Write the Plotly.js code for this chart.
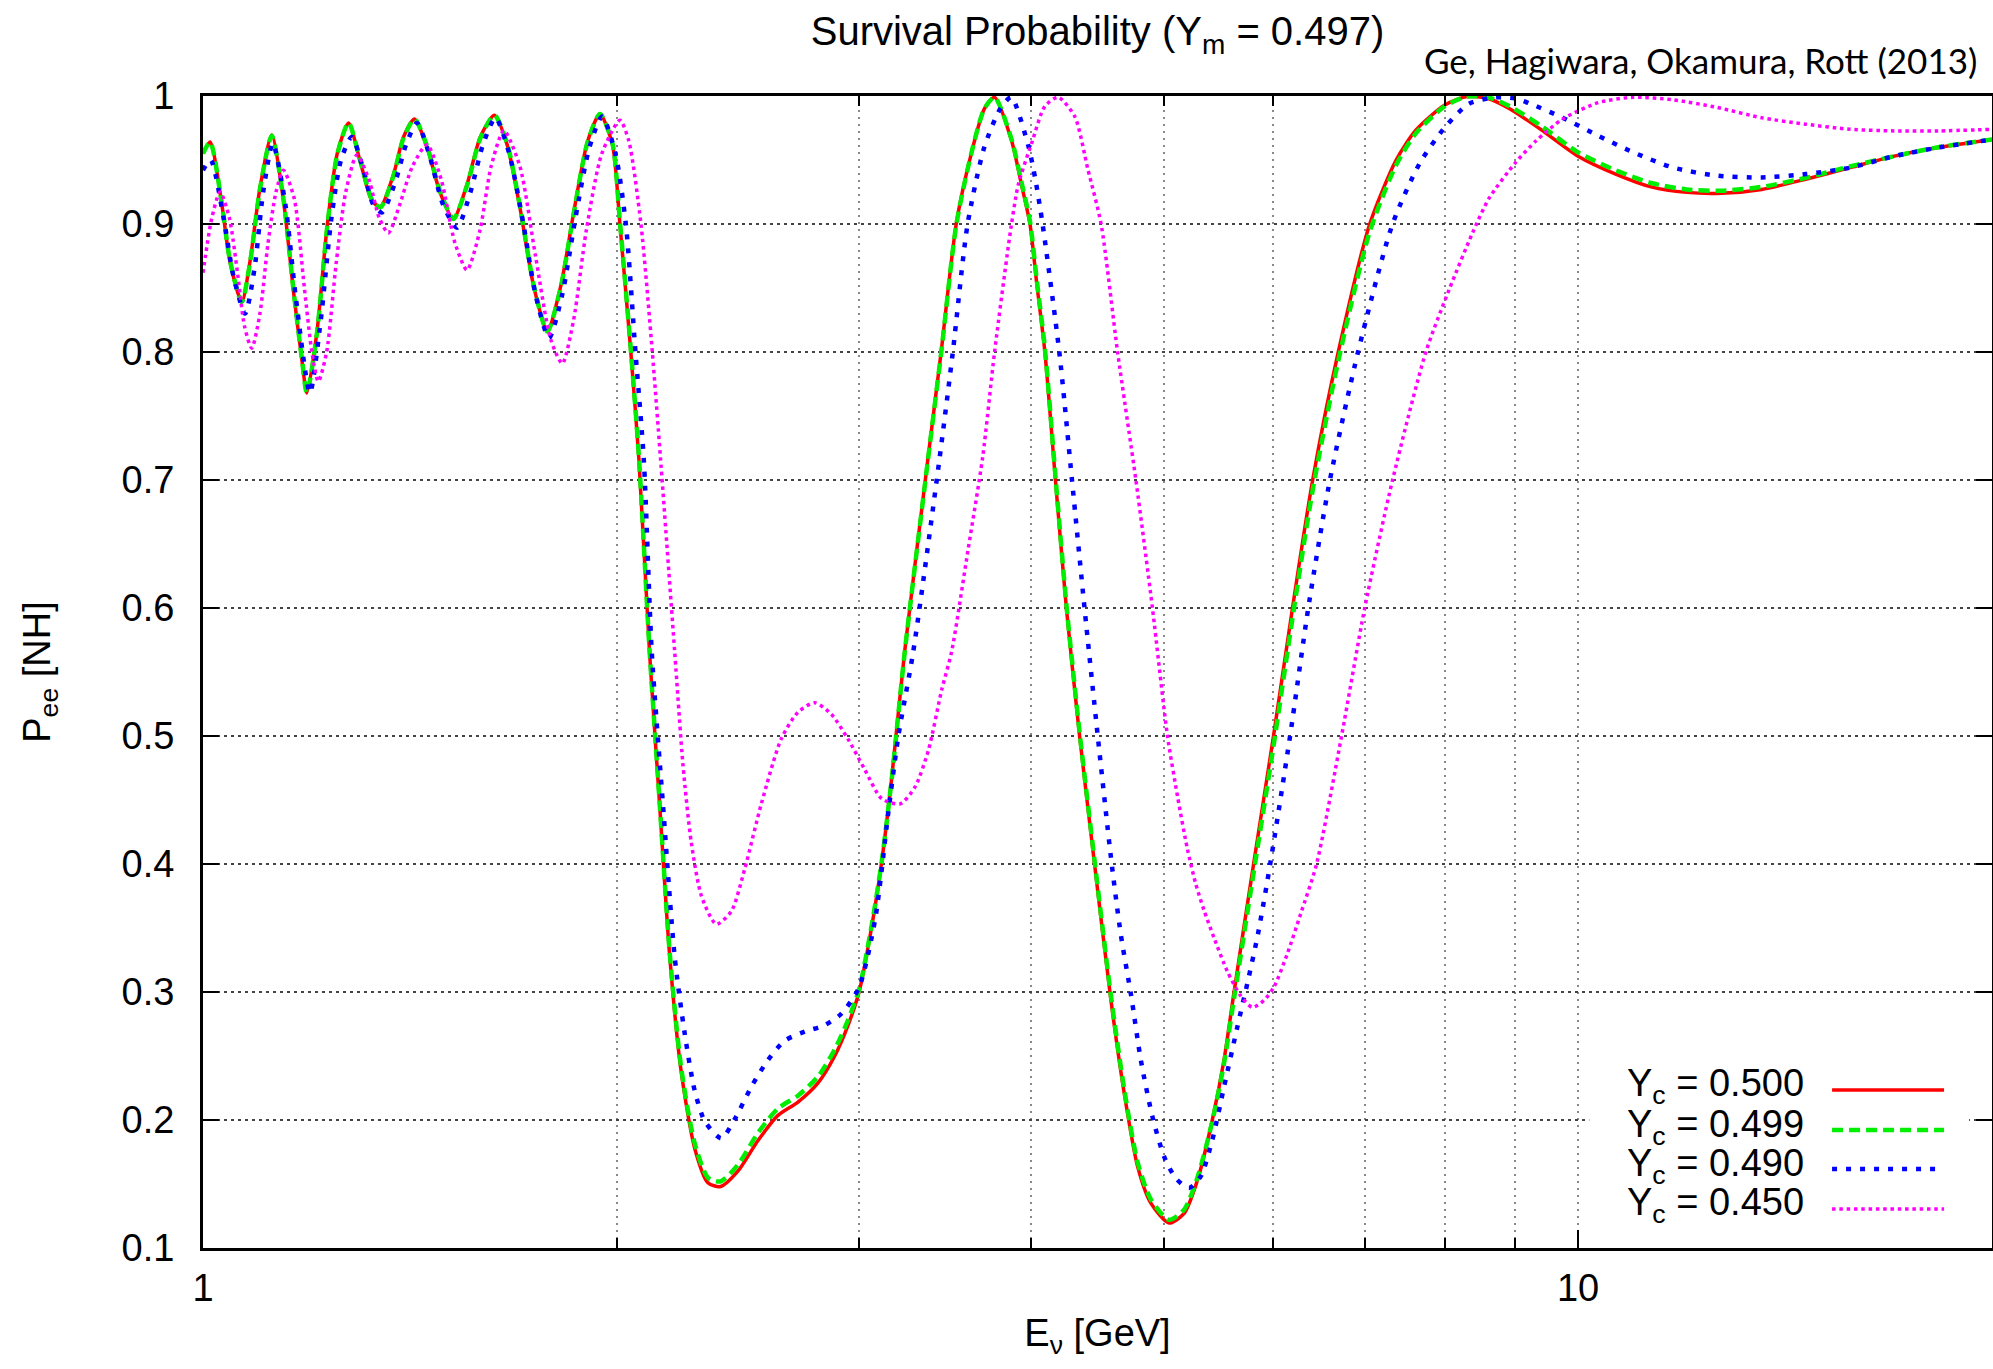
<!DOCTYPE html>
<html>
<head>
<meta charset="utf-8">
<script src="https://cdn.plot.ly/plotly-3.0.1.min.js"></script>
<style>html,body{margin:0;padding:0;background:#fff;}#chart{width:1993px;height:1369px;}</style>
</head>
<body>
<div id="chart"></div>
<script>
// ---- data ----
const seriesLabels = ["Y<sub>c</sub> = 0.500", "Y<sub>c</sub> = 0.499", "Y<sub>c</sub> = 0.490", "Y<sub>c</sub> = 0.450"];

const E_500 = [1.000,1.012,1.032,1.046,1.067,1.082,1.100,1.122,1.144,1.164,1.180,1.190,1.210,1.231,1.252,1.276,1.301,1.327,1.346,1.376,1.399,1.425,1.455,1.488,1.521,1.556,1.591,1.629,1.664,1.702,1.740,1.780,1.820,1.861,1.904,1.944,1.985,2.010,2.047,2.075,2.112,2.148,2.185,2.227,2.278,2.329,2.379,2.449,2.533,2.619,2.708,2.801,2.880,2.945,3.000,3.064,3.116,3.169,3.238,3.366,3.442,3.530,3.620,3.700,3.764,3.873,3.939,3.994,4.040,4.095,4.168,4.245,4.340,4.450,4.574,4.677,4.783,4.890,5.042,5.170,5.287,5.420,5.527,5.621,5.808,6.005,6.199,6.412,6.693,7.055,7.374,7.624,8.000,8.300,8.600,8.917,9.391,10.00,10.65,11.30,11.99,12.72,13.60,14.64,15.77,16.98,18.28,20.00];
const P_500 = [0.955,0.964,0.9155,0.871,0.839,0.871,0.928,0.9695,0.919,0.846,0.794,0.768,0.815,0.898,0.955,0.979,0.949,0.918,0.9135,0.939,0.968,0.982,0.960,0.924,0.904,0.931,0.968,0.985,0.962,0.910,0.851,0.8166,0.851,0.910,0.9645,0.986,0.962,0.900,0.800,0.716,0.566,0.447,0.3275,0.238,0.178,0.151,0.148,0.160,0.184,0.2036,0.214,0.229,0.250,0.274,0.300,0.351,0.402,0.468,0.566,0.716,0.800,0.900,0.955,0.990,0.999,0.965,0.930,0.900,0.853,0.800,0.700,0.600,0.500,0.400,0.2935,0.2208,0.1636,0.135,0.1195,0.127,0.153,0.200,0.2467,0.300,0.400,0.500,0.600,0.700,0.800,0.900,0.950,0.9735,0.993,0.9995,0.998,0.990,0.974,0.953,0.939,0.929,0.9247,0.924,0.927,0.935,0.944,0.953,0.9597,0.966];

const E_499 = [1.000,1.012,1.032,1.046,1.067,1.082,1.100,1.122,1.144,1.164,1.180,1.190,1.210,1.231,1.252,1.276,1.301,1.327,1.346,1.376,1.399,1.425,1.455,1.488,1.521,1.556,1.591,1.629,1.664,1.702,1.740,1.780,1.820,1.861,1.904,1.944,1.985,2.010,2.047,2.075,2.112,2.148,2.185,2.227,2.278,2.329,2.379,2.449,2.533,2.619,2.708,2.801,2.880,2.945,3.000,3.064,3.116,3.169,3.238,3.366,3.442,3.530,3.620,3.700,3.764,3.873,3.939,3.994,4.040,4.095,4.168,4.245,4.340,4.450,4.574,4.677,4.783,4.890,5.042,5.170,5.287,5.420,5.527,5.621,5.808,6.005,6.199,6.412,6.693,7.055,7.374,7.624,8.000,8.300,8.600,8.917,9.391,10.00,10.65,11.30,11.99,12.72,13.60,14.64,15.77,16.98,18.28,20.00];
const P_499 = [0.955,0.964,0.916,0.872,0.839,0.870,0.927,0.969,0.920,0.847,0.795,0.768,0.814,0.897,0.954,0.979,0.950,0.919,0.913,0.938,0.967,0.982,0.961,0.925,0.904,0.930,0.967,0.985,0.963,0.911,0.852,0.816,0.850,0.909,0.964,0.986,0.963,0.902,0.802,0.718,0.568,0.449,0.330,0.241,0.182,0.155,0.152,0.165,0.190,0.209,0.219,0.234,0.255,0.278,0.302,0.352,0.402,0.467,0.565,0.715,0.799,0.899,0.955,0.990,0.999,0.966,0.932,0.902,0.856,0.803,0.703,0.603,0.503,0.403,0.297,0.224,0.167,0.138,0.122,0.130,0.155,0.199,0.244,0.295,0.393,0.492,0.592,0.692,0.793,0.894,0.946,0.971,0.992,0.9995,0.999,0.992,0.977,0.956,0.942,0.932,0.927,0.926,0.929,0.936,0.945,0.953,0.960,0.966];

const E_490 = [1.000,1.013,1.035,1.052,1.073,1.090,1.106,1.124,1.148,1.168,1.196,1.218,1.240,1.260,1.283,1.310,1.330,1.349,1.380,1.405,1.431,1.460,1.495,1.530,1.565,1.598,1.632,1.670,1.710,1.745,1.785,1.825,1.866,1.910,1.951,1.995,2.030,2.063,2.092,2.120,2.160,2.203,2.240,2.278,2.317,2.382,2.436,2.505,2.576,2.649,2.739,2.831,2.912,3.000,3.082,3.151,3.204,3.285,3.432,3.510,3.598,3.700,3.800,3.870,3.983,4.030,4.079,4.195,4.285,4.376,4.474,4.574,4.650,4.730,4.809,4.903,5.000,5.098,5.213,5.316,5.420,5.528,5.652,5.747,5.850,5.972,6.174,6.365,6.600,6.918,7.330,7.667,8.000,8.331,8.710,9.006,9.254,9.745,10.34,10.97,11.73,12.63,13.60,14.64,15.77,16.98,18.28,20.00];
const P_490 = [0.942,0.950,0.905,0.860,0.830,0.865,0.925,0.963,0.915,0.843,0.768,0.825,0.905,0.950,0.968,0.940,0.915,0.909,0.933,0.962,0.979,0.955,0.915,0.897,0.925,0.962,0.983,0.955,0.900,0.845,0.811,0.845,0.905,0.960,0.984,0.955,0.900,0.800,0.716,0.566,0.447,0.3275,0.268,0.223,0.199,0.1857,0.2006,0.226,0.247,0.262,0.269,0.274,0.283,0.3036,0.357,0.441,0.500,0.566,0.716,0.800,0.900,0.960,0.990,0.999,0.961,0.935,0.900,0.800,0.700,0.600,0.500,0.405,0.345,0.298,0.2467,0.2026,0.1714,0.1545,0.1468,0.156,0.1844,0.226,0.2727,0.3065,0.345,0.400,0.500,0.600,0.700,0.800,0.900,0.947,0.9755,0.994,0.999,0.998,0.9935,0.983,0.969,0.956,0.944,0.9377,0.9364,0.939,0.944,0.953,0.9597,0.966];

const E_450 = [1.000,1.015,1.029,1.045,1.060,1.072,1.085,1.100,1.115,1.130,1.144,1.165,1.185,1.200,1.213,1.230,1.250,1.270,1.294,1.320,1.343,1.364,1.390,1.420,1.455,1.490,1.525,1.556,1.590,1.620,1.655,1.700,1.745,1.790,1.825,1.860,1.900,1.950,2.010,2.040,2.082,2.122,2.151,2.203,2.234,2.265,2.304,2.362,2.422,2.477,2.547,2.634,2.708,2.785,2.864,2.945,3.028,3.116,3.214,3.294,3.369,3.445,3.503,3.600,3.690,3.764,3.870,3.917,4.005,4.095,4.187,4.305,4.400,4.499,4.625,4.769,4.903,5.028,5.115,5.198,5.270,5.345,5.437,5.559,5.684,5.796,5.910,6.010,6.146,6.284,6.454,6.730,6.996,7.330,7.750,8.060,8.380,8.614,9.006,9.322,9.745,10.34,10.97,11.73,12.63,13.60,14.64,15.77,16.98,18.28,20.00];
const P_450 = [0.862,0.905,0.925,0.905,0.860,0.820,0.803,0.830,0.885,0.925,0.942,0.920,0.850,0.800,0.777,0.800,0.870,0.925,0.954,0.935,0.905,0.893,0.915,0.945,0.962,0.935,0.885,0.864,0.895,0.945,0.973,0.945,0.875,0.810,0.791,0.825,0.895,0.955,0.981,0.965,0.900,0.800,0.718,0.566,0.477,0.417,0.375,0.353,0.363,0.396,0.447,0.498,0.5185,0.526,0.517,0.4976,0.474,0.451,0.447,0.460,0.4887,0.536,0.566,0.645,0.718,0.800,0.898,0.931,0.963,0.992,0.999,0.984,0.943,0.900,0.800,0.700,0.600,0.500,0.452,0.412,0.385,0.364,0.342,0.316,0.297,0.288,0.2935,0.304,0.330,0.361,0.400,0.500,0.600,0.700,0.800,0.849,0.893,0.920,0.948,0.965,0.982,0.9948,0.999,0.997,0.991,0.983,0.978,0.974,0.9727,0.9727,0.974];

const xMajorTicks = [1, 10];
const xMajorLabels = ["1", "10"];
const xMinorTicks = [2, 3, 4, 5, 6, 7, 8, 9, 20];

// ---- styles ----
const styles = [
  {color: "#ff0000", width: 3.5, dash: "solid"},
  {color: "#00ee00", width: 4.5, dash: "11px,6px"},
  {color: "#0000ff", width: 4.5, dash: "5px,9px"},
  {color: "#ff00ff", width: 3.5, dash: "3.5px,3.8px"}
];
const xs = [E_500, E_499, E_490, E_450];
const ys = [P_500, P_499, P_490, P_450];

const traces = xs.map((x, i) => ({
  x: x, y: ys[i], type: "scatter", mode: "lines",
  name: seriesLabels[i], showlegend: false,
  line: {color: styles[i].color, width: styles[i].width, dash: styles[i].dash, shape: "spline", smoothing: 0.7}
}));

const FONT = "Liberation Sans, Arial, sans-serif";

// manual gnuplot-style key (text left, sample right) on an opaque box
const keyRowsY = [0.1372, 0.1024, 0.0686, 0.0339];
const annotations = [
  {text: "Ge, Hagiwara, Okamura, Rott (2013)", xref: "paper", yref: "paper", x: 0.9927, y: 1.0313,
   xanchor: "right", yanchor: "middle", showarrow: false, font: {family: "Lato, sans-serif", size: 35, color: "#000"}}
];
const shapes = [
  {type: "rect", xref: "paper", yref: "paper", x0: 0.7749, x1: 0.9872, y0: 0.008, y1: 0.1615,
   fillcolor: "#ffffff", line: {width: 0}, layer: "above"}
];
seriesLabels.forEach((lab, i) => {
  annotations.push({text: lab, xref: "paper", yref: "paper", x: 0.8961, y: keyRowsY[i] + 0.003,
    xanchor: "right", yanchor: "middle", showarrow: false, font: {family: FONT, size: 38, color: "#000"}});
  shapes.push({type: "line", xref: "paper", yref: "paper", x0: 0.9106, x1: 0.9732, y0: keyRowsY[i], y1: keyRowsY[i],
    line: {color: styles[i].color, width: styles[i].width, dash: styles[i].dash}, layer: "above"});
});

const layout = {
  width: 1993, height: 1369,
  margin: {l: 203, r: 1, t: 96, b: 121, pad: 0},
  paper_bgcolor: "#fff", plot_bgcolor: "#fff",
  font: {family: FONT, size: 38, color: "#000"},
  title: {text: "Survival Probability (Y<sub>m</sub> = 0.497)", x: 0.5, xref: "paper", xanchor: "center",
          y: 0.977, yref: "container", yanchor: "middle", font: {family: FONT, size: 40, color: "#000"}},
  xaxis: {
    type: "log", range: [0, Math.log10(20)], autorange: false,
    tickmode: "array", tickvals: xMajorTicks, ticktext: xMajorLabels,
    ticks: "inside", ticklen: 18, tickwidth: 2.5, tickcolor: "#000",
    showline: true, linecolor: "#000", linewidth: 3, mirror: "allticks",
    showgrid: true, gridcolor: "#888", gridwidth: 1.5, griddash: "2px,5px",
    minor: {tickmode: "array", tickvals: xMinorTicks, ticks: "inside", ticklen: 10, tickwidth: 2, tickcolor: "#000",
            showgrid: true, gridcolor: "#888", gridwidth: 1.5, griddash: "2px,5px"},
    zeroline: false, ticklabelstandoff: 4,
    tickfont: {family: FONT, size: 38, color: "#000"},
    title: {text: "E<sub>ν</sub> [GeV]", font: {family: FONT, size: 38, color: "#000"}, standoff: 12}
  },
  yaxis: {
    range: [0.1, 1.0], autorange: false, tick0: 0.1, dtick: 0.1, tickmode: "linear",
    ticks: "inside", ticklen: 16, tickwidth: 2.5, tickcolor: "#000",
    showline: true, linecolor: "#000", linewidth: 3, mirror: "allticks",
    showgrid: true, gridcolor: "#444", gridwidth: 1.3, griddash: "3px,4px",
    zeroline: false, ticklabelstandoff: 18,
    tickfont: {family: FONT, size: 38, color: "#000"},
    title: {text: "P<sub>ee</sub> [NH]", font: {family: FONT, size: 38, color: "#000"}, standoff: 60}
  },
  annotations: annotations,
  shapes: shapes
};

Plotly.newPlot("chart", traces, layout, {staticPlot: true, displayModeBar: false});
</script>
</body>
</html>
